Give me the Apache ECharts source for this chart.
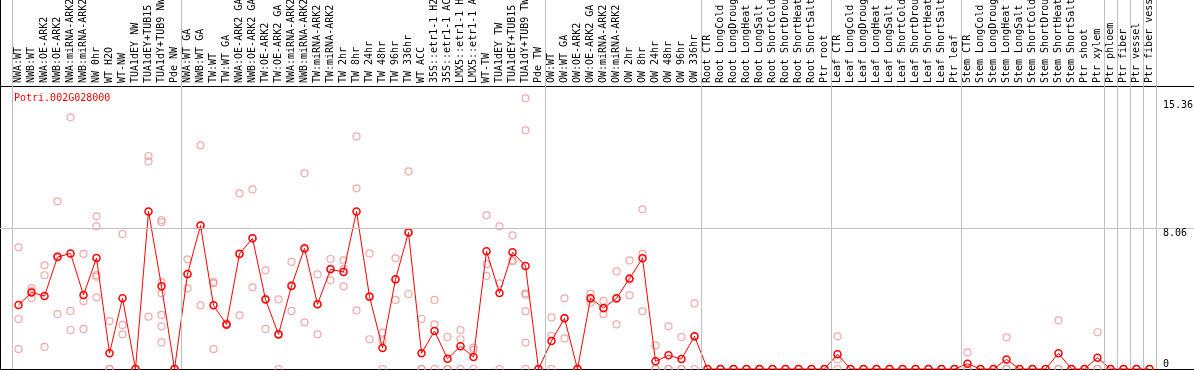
<!DOCTYPE html>
<html>
<head>
<meta charset="utf-8">
<title>Potri.002G028000</title>
<script src="https://cdn.jsdelivr.net/npm/echarts@6/dist/echarts.min.js"></script>
<style>
html,body{margin:0;padding:0;background:#fff;}
#chart{width:1194px;height:370px;}
</style>
</head>
<body>
<div id="chart"></div>
<script>
var geneName = "Potri.002G028000";

// sample names (x categories)
var sampleNames = [
  "NWA:WT","NWB:WT","NWA:OE-ARK2","NWB:OE-ARK2","NWA:miRNA-ARK2","NWB:miRNA-ARK2","NW 0hr","WT H2O","WT-NW",
  "TUA1dEY NW","TUA1dEY+TUB15 NW","TUA1dY+TUB9 NW","Pde NW",
  "NWA:WT GA","NWB:WT GA","TW:WT","TW:WT GA","NWA:OE-ARK2 GA","NWB:OE-ARK2 GA","TW:OE-ARK2","TW:OE-ARK2 GA",
  "NWA:miRNA-ARK2 GA","NWB:miRNA-ARK2 GA","TW:miRNA-ARK2","TW:miRNA-ARK2 GA",
  "TW 2hr","TW 8hr","TW 24hr","TW 48hr","TW 96hr","TW 336hr",
  "WT ACC","35S::etr1-1 H2O","35S::etr1-1 ACC","LMX5::etr1-1 H2O","LMX5::etr1-1 ACC",
  "WT-TW","TUA1dEY TW","TUA1dEY+TUB15 TW","TUA1dY+TUB9 TW","Pde TW",
  "OW:WT","OW:WT GA","OW:OE-ARK2","OW:OE-ARK2 GA","OW:miRNA-ARK2","OW:miRNA-ARK2 GA",
  "OW 2hr","OW 8hr","OW 24hr","OW 48hr","OW 96hr","OW 336hr",
  "Root CTR","Root LongCold","Root LongDrought","Root LongHeat","Root LongSalt",
  "Root ShortCold","Root ShortDrought","Root ShortHeat","Root ShortSalt","Ptr root",
  "Leaf CTR","Leaf LongCold","Leaf LongDrought","Leaf LongHeat","Leaf LongSalt",
  "Leaf ShortCold","Leaf ShortDrought","Leaf ShortHeat","Leaf ShortSalt","Ptr leaf",
  "Stem CTR","Stem LongCold","Stem LongDrought","Stem LongHeat","Stem LongSalt",
  "Stem ShortCold","Stem ShortDrought","Stem ShortHeat","Stem ShortSalt",
  "Ptr shoot","Ptr xylem","Ptr phloem","Ptr fiber","Ptr vessel","Ptr fiber vessel"
];

// mean expression (red line)
var meanValues = [
  3.66,4.38,4.17,6.40,6.61,4.23,6.35,0.90,4.04,0,9.01,4.73,0,
  5.43,8.21,3.64,2.55,6.58,7.47,3.98,1.98,4.75,6.90,3.70,5.70,
  5.55,9.01,4.14,1.20,5.13,7.81,
  0.90,2.17,0.59,1.30,0.69,
  6.73,4.35,6.67,5.89,0,
  1.60,2.90,0,4.04,3.49,4.04,5.18,6.33,0.44,0.78,0.57,1.87,
  0,0,0,0,0,0,0,0,0,0,
  0.84,0,0,0,0,0,0,0,0,0,
  0.30,0,0,0.55,0,0,0,0.90,0,0,0.65,
  0,0,0,0
];

// single replicates (pink circles)
var replicateValues = [
  [6.96,2.86,1.14],[4.63,4.45,4.06],[5.93,5.36,1.26],[9.59,6.47,3.14],[14.39,3.32,2.23],
  [6.58,3.87,2.29],[8.73,8.16,5.37,5.28,4.10],[2.74,0,0],[7.72,2.52,1.98],[0,0,0],
  [12.18,11.87,2.99],[8.52,8.40,4.97,4.33,3.09,2.44,1.52],[0,0,0],
  [6.27,5.41,4.61],[12.79,8.20,3.64],[4.97,4.90,1.14],[2.61,2.52,2.52],[10.04,6.63,3.07],
  [10.27,7.47,4.67],[5.64,4.01,2.29],[3.98,1.96,0],[6.12,4.81,3.32],[11.19,6.84,2.67],
  [5.41,3.70,1.98],[6.29,5.74,5.07],[6.21,5.70,4.73],[13.30,10.33,3.35],[6.61,4.10,1.70],
  [2.08,1.62,0],[6.33,5.10,3.95],[11.30,7.84,4.29],
  [2.86,0,0],[3.95,2.55,0],[1.83,0,0],[2.23,1.70,0],[1.22,1.09,0],
  [8.79,6.00,5.32],[8.16,4.90,0],[7.64,6.21,6.16],[15.48,13.65,4.33,4.25,3.30,1.51,0],[0,0,0],
  [2.95,1.89,0],[4.04,2.90,1.75],[0,0,0],[4.31,4.00,3.79],[3.89,3.45,3.13],[5.58,4.00,2.55],
  [6.21,5.10,4.21],[9.13,6.58,3.30],[1.35,0,0],[2.44,0,0],[1.83,0,0],[3.75,1.85,0],
  [0,0,0],[0,0,0],[0,0,0],[0,0,0],[0,0,0],[0,0,0],[0,0,0],[0,0,0],[0,0,0],[0,0,0],
  [1.87,0.55,0],[0,0,0],[0,0,0],[0,0,0],[0,0,0],[0,0,0],[0,0,0],[0,0,0],[0,0,0],[0,0,0],
  [0.95,0,0],[0,0,0],[0,0,0],[1.81,0,0],[0,0,0],[0,0,0],[0,0,0],[2.78,0,0],[0,0,0],[0,0,0],
  [2.10,0,0],[0,0,0],[0,0,0],[0,0,0],[0,0,0]
];

// sample index where each group starts (grey separators)
var groupStarts = [0,13,41,53,63,73,84,85,86,87,88];
// value labels on the right, and the grey guide line
var yTickValues = [15.36, 8.06, 0];
var yGuideValue = 8.06;

var monoFont = "DejaVu Sans Mono";
var xMin = -18.5 / 13;          // first sample sits 18.5px from the left
var xMax = xMin + 1194 / 13;    // 13px per sample
var yMax = 21.1;

var sampleIdx = sampleNames.map(function (n, i) { return i; });
var meanData = meanValues.map(function (v, i) { return [i, v]; });
var repData = [];
replicateValues.forEach(function (list, i) {
  list.forEach(function (v) { repData.push([i, v]); });
});

var lastBoundary = groupStarts[groupStarts.length - 1] - 0.5;
var sepLines = groupStarts.map(function (k) { return { xAxis: k - 0.5 }; });
var tickLines = yTickValues.map(function (v) {
  return [
    { coord: [lastBoundary, v],
      label: { position: v === 0 ? 'insideStartTop' : 'insideStartBottom', formatter: String(v) } },
    { coord: [xMax, v] }
  ];
});

var myChart = echarts.init(document.getElementById('chart'));
var option = {
  animation: false,
  title: {
    text: geneName, left: 9, top: 88,
    textStyle: { color: '#ff0000', fontFamily: monoFont, fontSize: 10, fontWeight: 'normal' }
  },
  grid: { left: 0, right: 0, top: 0, bottom: 1, outerBoundsMode: 'none', containLabel: false },
  xAxis: [{
    type: 'value', position: 'top', offset: -86, min: xMin, max: xMax,
    axisLine: { onZero: false, lineStyle: { color: '#000', width: 1 } },
    axisTick: { show: false },
    splitLine: { show: false },
    axisLabel: {
      customValues: sampleIdx, rotate: -90, margin: 3,
      color: '#000', fontFamily: monoFont, fontSize: 10,
      formatter: function (v) { return sampleNames[Math.round(v)]; }
    }
  }, {
    type: 'value', position: 'bottom', min: xMin, max: xMax,
    axisLine: { onZero: false, lineStyle: { color: '#000', width: 1 } },
    axisTick: { show: false }, axisLabel: { show: false }, splitLine: { show: false }
  }],
  yAxis: {
    type: 'value', min: 0, max: yMax, position: 'left',
    axisLine: { show: true, onZero: false, lineStyle: { color: '#000', width: 1 } },
    axisTick: { show: false }, axisLabel: { show: false }, splitLine: { show: false }
  },
  series: [{
    name: 'separators', type: 'scatter', data: [], silent: true,
    markLine: {
      silent: true, symbol: ['none', 'none'], animation: false,
      label: { show: false },
      lineStyle: { color: '#c0c0c0', width: 1, type: 'solid' },
      data: sepLines.concat([{ yAxis: yGuideValue }])
    }
  }, {
    name: 'ticks', type: 'scatter', data: [], silent: true,
    markLine: {
      silent: true, symbol: ['none', 'none'], animation: false,
      lineStyle: { color: 'rgba(0,0,0,0)', width: 1 },
      label: {
        show: true, distance: [7, 0], color: '#000', opacity: 1, fontFamily: monoFont, fontSize: 10
      },
      data: tickLines
    }
  }, {
    name: 'replicates', type: 'scatter', data: repData, silent: true,
    symbol: 'circle', symbolSize: 7, z: 3,
    itemStyle: { color: 'rgba(0,0,0,0)', borderColor: '#ec9494', borderWidth: 1.2 }
  }, {
    name: 'mean', type: 'line', data: meanData, silent: true,
    symbol: 'circle', symbolSize: 7, z: 4,
    lineStyle: { color: '#ff0000', width: 1 },
    itemStyle: { color: 'rgba(0,0,0,0)', borderColor: '#ff0000', borderWidth: 1.5 }
  }]
};
myChart.setOption(option);
window.addEventListener("resize", function () {
  myChart.resize();
});
</script>
</body>
</html>
